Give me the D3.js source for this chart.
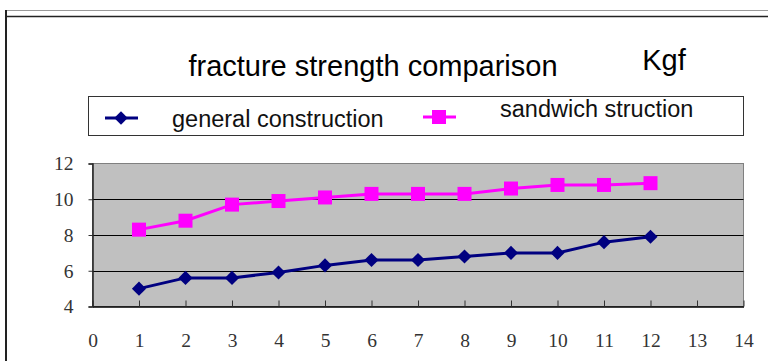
<!DOCTYPE html>
<meta charset="utf-8">
<head>
<style>
body { margin: 0; background: #fff; }
svg text { font-family: "Liberation Sans", Arial, sans-serif; }
.tick text { font-family: "Liberation Serif", "Times New Roman", serif; font-size: 19.5px; fill: #333; }
</style>
</head>
<body>
<script src="https://d3js.org/d3.v7.min.js"></script>
<script>
// data
var xValues = [1, 2, 3, 4, 5, 6, 7, 8, 9, 10, 11, 12];
var generalValues = [5.0, 5.6, 5.6, 5.9, 6.3, 6.6, 6.6, 6.8, 7.0, 7.0, 7.6, 7.9];
var sandwichValues = [8.3, 8.8, 9.7, 9.9, 10.1, 10.3, 10.3, 10.3, 10.6, 10.8, 10.8, 10.9];
var xTicks = d3.range(0, 15);
var yTicks = [4, 6, 8, 10, 12];
var seriesNames = ["general construction", "sandwich struction"];

var W = 768, H = 361;
var plot = { left: 92.5, right: 743.5, top: 163.5, bottom: 306.5 };

var svg = d3.select("body").append("svg")
    .attr("width", W)
    .attr("height", H);

// outer frame
svg.append("line").attr("x1", 6).attr("x2", W).attr("y1", 10.5).attr("y2", 10.5)
    .attr("stroke", "#999").attr("stroke-width", 1);
svg.append("line").attr("x1", 6).attr("x2", W).attr("y1", 16.5).attr("y2", 16.5)
    .attr("stroke", "#222").attr("stroke-width", 1.5);
svg.append("line").attr("x1", 6).attr("x2", 6).attr("y1", 10).attr("y2", H)
    .attr("stroke", "#222").attr("stroke-width", 2);

// title
svg.append("text").attr("x", 373).attr("y", 76)
    .attr("text-anchor", "middle").style("font-size", "29px")
    .text("fracture strength comparison");
svg.append("text").attr("x", 664).attr("y", 70)
    .attr("text-anchor", "middle").style("font-size", "29px")
    .text("Kgf");

// scales
var x = d3.scaleLinear().domain([0, 14]).range([plot.left, plot.right]);
var y = d3.scaleLinear().domain([4, 12]).range([plot.bottom, plot.top]);

// plot background
svg.append("rect")
    .attr("x", plot.left).attr("y", plot.top)
    .attr("width", plot.right - plot.left).attr("height", plot.bottom - plot.top)
    .attr("fill", "#c0c0c0").attr("stroke", "#808080").attr("stroke-width", 1);

// gridlines
svg.selectAll(".grid").data(yTicks.slice(1, -1)).enter().append("line")
    .attr("x1", plot.left).attr("x2", plot.right)
    .attr("y1", function(d) { return Math.round(y(d)) + 0.5; })
    .attr("y2", function(d) { return Math.round(y(d)) + 0.5; })
    .attr("stroke", "#000").attr("stroke-width", 1);

// x axis, ticks pointing up into the plot
var xAxis = svg.append("g")
    .attr("transform", "translate(0," + plot.bottom + ")")
    .call(d3.axisBottom(x).tickValues(xTicks).tickSizeInner(-6).tickSizeOuter(0).tickPadding(27));
xAxis.select(".domain").attr("stroke", "#000").attr("stroke-width", 1.5);
xAxis.selectAll(".tick line").attr("stroke", "#333");

// y axis
var yAxis = svg.append("g")
    .attr("transform", "translate(" + plot.left + ",0)")
    .call(d3.axisLeft(y).tickValues(yTicks).tickSize(4).tickPadding(15));
yAxis.select(".domain").attr("stroke", "#222").attr("stroke-width", 1.5);
yAxis.selectAll(".tick line").attr("stroke", "#333");

// series
var line = d3.line()
    .x(function(d, i) { return x(xValues[i]); })
    .y(function(d) { return y(d); });

svg.append("path").datum(generalValues)
    .attr("d", line).attr("fill", "none")
    .attr("stroke", "#000080").attr("stroke-width", 3);
svg.append("path").datum(sandwichValues)
    .attr("d", line).attr("fill", "none")
    .attr("stroke", "#ff00ff").attr("stroke-width", 3);

// diamonds = rotated squares
svg.selectAll(".gen").data(generalValues).enter().append("path")
    .attr("transform", function(d, i) { return "translate(" + x(xValues[i]) + "," + y(d) + ") rotate(45)"; })
    .attr("d", d3.symbol().type(d3.symbolSquare).size(100))
    .attr("fill", "#000080");

svg.selectAll(".sand").data(sandwichValues).enter().append("rect")
    .attr("x", function(d, i) { return x(xValues[i]) - 7; })
    .attr("y", function(d) { return y(d) - 7; })
    .attr("width", 14).attr("height", 14)
    .attr("fill", "#ff00ff");

// legend
svg.append("rect").attr("x", 88.5).attr("y", 96.5).attr("width", 655).attr("height", 39)
    .attr("fill", "#fff").attr("stroke", "#333").attr("stroke-width", 1);

svg.append("line").attr("x1", 105).attr("x2", 138).attr("y1", 118).attr("y2", 118)
    .attr("stroke", "#000080").attr("stroke-width", 3);
svg.append("path").attr("transform", "translate(121,118) rotate(45)")
    .attr("d", d3.symbol().type(d3.symbolSquare).size(90)).attr("fill", "#000080");
svg.append("text").attr("x", 172).attr("y", 127).style("font-size", "23.5px").attr("fill", "#111")
    .text(seriesNames[0]);

svg.append("line").attr("x1", 423).attr("x2", 456).attr("y1", 117).attr("y2", 117)
    .attr("stroke", "#ff00ff").attr("stroke-width", 3);
svg.append("rect").attr("x", 432).attr("y", 110).attr("width", 14).attr("height", 14)
    .attr("fill", "#ff00ff");
svg.append("text").attr("x", 500).attr("y", 117).style("font-size", "23.5px").attr("fill", "#111")
    .text(seriesNames[1]);
</script>
</body>
